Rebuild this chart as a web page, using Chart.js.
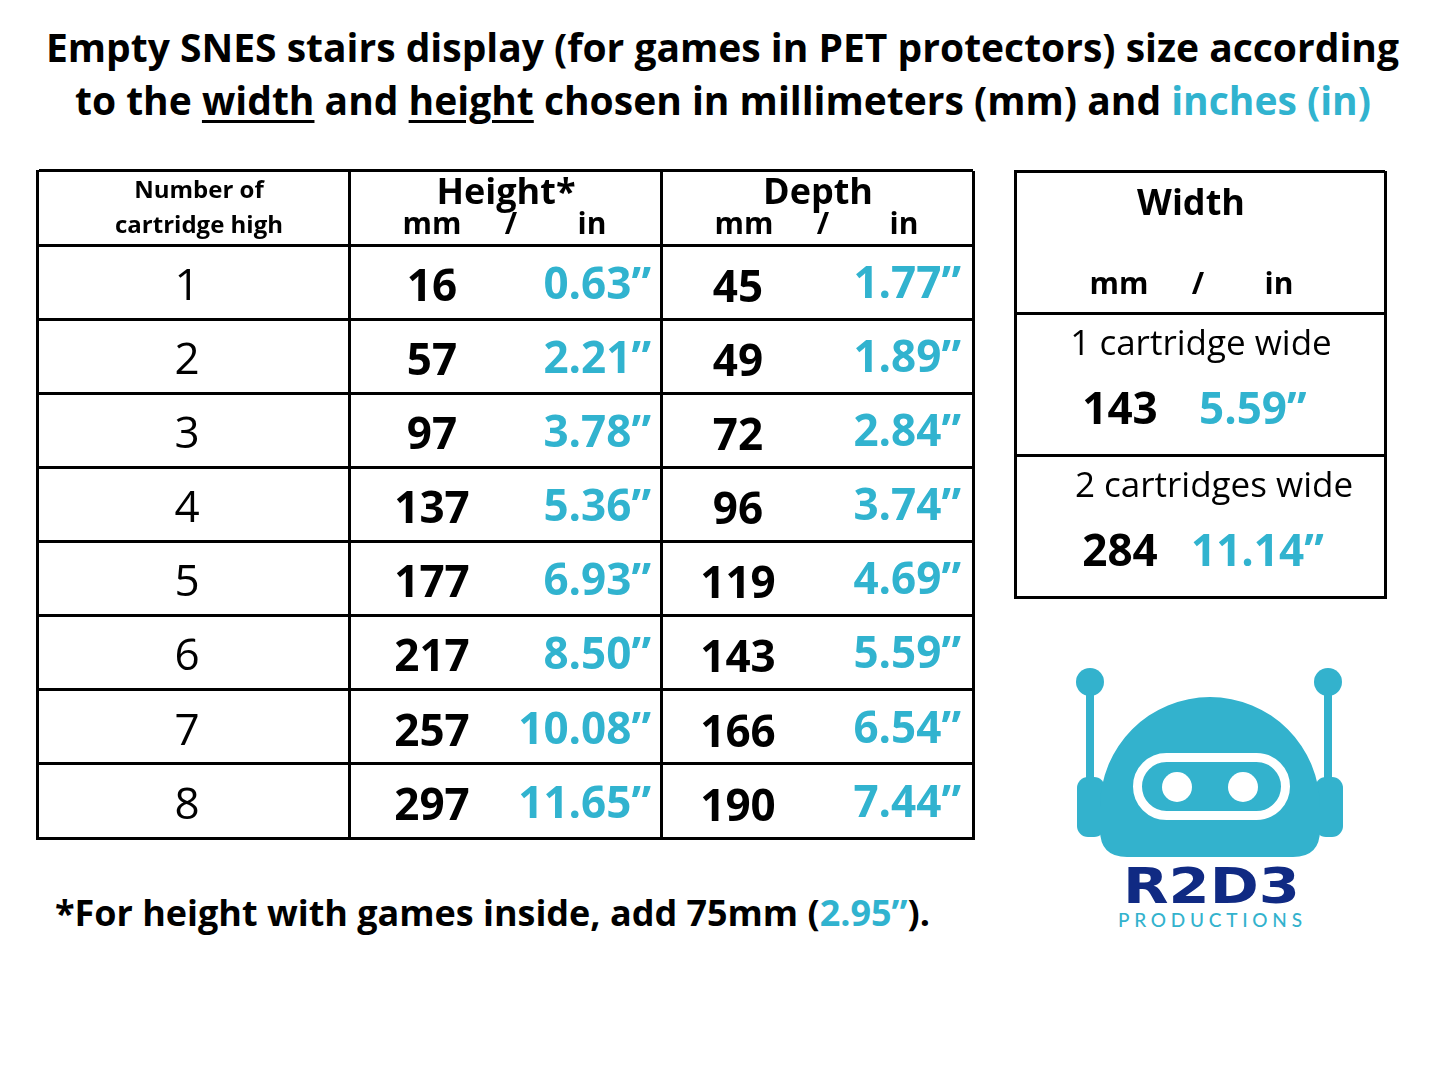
<!DOCTYPE html>
<html>
<head>
<meta charset="utf-8">
<script src="https://cdn.jsdelivr.net/npm/chart.js@4.4.0/dist/chart.umd.min.js"></script>
<style>
html,body{margin:0;padding:0;background:#fff;}
body{width:1445px;height:1084px;position:relative;overflow:hidden;font-family:'Open Sans',sans-serif;}
.row{position:absolute;left:0;width:1445px;text-align:center;white-space:nowrap;}
.fit{display:inline-block;font-weight:700;color:#000;transform-origin:center center;white-space:nowrap;}
.blue{color:#31b3cf;}
u{text-decoration-thickness:3px;text-underline-offset:5px;}
#title1,#title2{font-size:39px;line-height:50px;}
#title1{top:22px;}
#title2{top:75px;}
#foot{position:absolute;left:55px;top:888px;white-space:nowrap;}
#foot .fit{font-size:35px;line-height:50px;transform-origin:left center;}
#mainBox{position:absolute;left:30px;top:165px;width:950px;height:680px;}
#widthBox{position:absolute;left:1008px;top:165px;width:384px;height:438px;}
#logo{position:absolute;left:1060px;top:650px;width:300px;height:290px;}
</style>
</head>
<body>
<div class="row" id="title1"><span class="fit" data-w="1353">Empty SNES stairs display (for games in PET protectors) size according</span></div>
<div class="row" id="title2"><span class="fit" data-w="1296">to the <u>width</u> and <u>height</u> chosen in millimeters (mm) and <span class="blue">inches (in)</span></span></div>

<div id="mainBox"><canvas id="mainChart"></canvas></div>
<div id="widthBox"><canvas id="widthChart"></canvas></div>

<div id="foot"><span class="fit" data-w="875">*For height with games inside, add 75mm (<span class="blue">2.95”</span>).</span></div>

<svg id="logo" viewBox="0 0 300 290" xmlns="http://www.w3.org/2000/svg">
  <g fill="#33b2cd">
    <circle cx="30" cy="32" r="14"/>
    <circle cx="268" cy="32" r="14"/>
    <rect x="26" y="32" width="8" height="100"/>
    <rect x="264" y="32" width="8" height="100"/>
    <rect x="17" y="127" width="28" height="60" rx="11"/>
    <rect x="255" y="127" width="28" height="60" rx="11"/>
    <path d="M40,157 A110,110 0 0 1 260,157 L260,180 Q260,207 233,207 L67,207 Q40,207 40,180 Z"/>
  </g>
  <rect x="77.5" y="107.5" width="148" height="58" rx="29" fill="none" stroke="#fff" stroke-width="9"/>
  <circle cx="117" cy="137" r="15" fill="#fff"/>
  <circle cx="183" cy="137" r="15" fill="#fff"/>
  <text x="63" y="253" font-family="DejaVu Sans" font-weight="bold" font-size="49" fill="#102a83" textLength="177" lengthAdjust="spacingAndGlyphs">R2D3</text>
  <text x="58" y="277" font-family="Lato, 'DejaVu Sans'" font-weight="500" font-size="19" fill="#33b2cd" textLength="184" lengthAdjust="spacing">PRODUCTIONS</text>
</svg>

<script>
// ---- data ----
const columns = ['Number of cartridge high', 'Height', 'Depth'];
const cartridgesHigh = ['1', '2', '3', '4', '5', '6', '7', '8'];
const heightMm = [16, 57, 97, 137, 177, 217, 257, 297];
const heightIn = ['0.63', '2.21', '3.78', '5.36', '6.93', '8.50', '10.08', '11.65'];
const depthMm = [45, 49, 72, 96, 119, 143, 166, 190];
const depthIn = ['1.77', '1.89', '2.84', '3.74', '4.69', '5.59', '6.54', '7.44'];
const widthColumns = ['Width'];
const widthLabels = ['1 cartridge wide', '2 cartridges wide'];
const widthMm = [143, 284];
const widthIn = ['5.59', '11.14'];

const BLACK = '#000';
const BLUE = '#31b3cf';
const INCH = '”';
const FONT = '"Open Sans", sans-serif';

// fit title / footnote widths
document.querySelectorAll('.fit').forEach(el => {
  const w = el.getBoundingClientRect().width;
  el.style.transform = 'scaleX(' + (parseFloat(el.dataset.w) / w) + ')';
});

// draw text with its cap-height centred on cy
function txt(ctx, s, x, cy, weight, size, color, align) {
  ctx.font = weight + ' ' + size + 'px ' + FONT;
  ctx.fillStyle = color;
  ctx.textAlign = align || 'center';
  ctx.textBaseline = 'alphabetic';
  ctx.fillText(s, x, cy + size * 0.357);
}

const gridScale = (labels) => ({
  type: 'category',
  labels: labels,
  offset: true,
  grid: { offset: true, color: BLACK, lineWidth: 3, drawTicks: false },
  border: { display: true, color: BLACK, width: 3 },
  ticks: { display: false }
});

const baseOptions = (padding) => ({
  responsive: true,
  maintainAspectRatio: false,
  animation: false,
  events: [],
  layout: { padding: padding },
  plugins: { legend: { display: false }, tooltip: { enabled: false } }
});

// ---- main table ----
const mainRows = ['header'].concat(cartridgesHigh);
const mainOpts = baseOptions({ left: 7, top: 6, right: 7, bottom: 7 });
mainOpts.scales = { x: gridScale(columns), y: gridScale(mainRows) };

new Chart(document.getElementById('mainChart'), {
  type: 'scatter',
  data: { datasets: [] },
  options: mainOpts,
  plugins: [{
    id: 'mainText',
    afterDraw(chart) {
      const { ctx, scales: { x, y } } = chart;
      const colW = x.getPixelForValue(1) - x.getPixelForValue(0);
      ctx.save();
      const hy = y.getPixelForValue(0);
      const c0 = x.getPixelForValue(0);
      txt(ctx, 'Number of', c0 + 6, hy - 19, 700, 24, BLACK);
      txt(ctx, 'cartridge high', c0 + 6, hy + 16, 700, 24, BLACK);
      [[1, 'Height*'], [2, 'Depth']].forEach(([j, name]) => {
        const cx = x.getPixelForValue(j);
        txt(ctx, name, cx + 1, hy - 17, 700, 36, BLACK);
        txt(ctx, 'mm', cx - 73, hy + 15, 700, 30, BLACK);
        txt(ctx, '/', cx + 6, hy + 15, 700, 30, BLACK);
        txt(ctx, 'in', cx + 87, hy + 15, 700, 30, BLACK);
      });
      for (let i = 0; i < cartridgesHigh.length; i++) {
        const cy = y.getPixelForValue(i + 1) + 2;
        txt(ctx, cartridgesHigh[i], c0 - 6, cy, 400, 44, BLACK);
        const hx = x.getPixelForValue(1);
        txt(ctx, String(heightMm[i]), hx - 73, cy + 1, 700, 44, BLACK);
        txt(ctx, heightIn[i] + INCH, hx + colW / 2 - 10, cy - 1, 700, 44, BLUE, 'right');
        const dx = x.getPixelForValue(2);
        txt(ctx, String(depthMm[i]), dx - 79, cy + 2, 700, 44, BLACK);
        txt(ctx, depthIn[i] + INCH, dx + colW / 2 - 12, cy - 2, 700, 44, BLUE, 'right');
      }
      ctx.restore();
    }
  }]
});

// ---- width table ----
const widthRows = ['header'].concat(widthLabels);
const widthOpts = baseOptions({ left: 7, top: 6, right: 7, bottom: 6 });
widthOpts.scales = { x: gridScale(widthColumns), y: gridScale(widthRows) };

new Chart(document.getElementById('widthChart'), {
  type: 'scatter',
  data: { datasets: [] },
  options: widthOpts,
  plugins: [{
    id: 'widthText',
    afterDraw(chart) {
      const { ctx, scales: { x, y } } = chart;
      ctx.save();
      const cx = x.getPixelForValue(0);
      const hy = y.getPixelForValue(0);
      txt(ctx, widthColumns[0], cx - 9, hy - 40, 700, 36, BLACK);
      txt(ctx, 'mm', cx - 81, hy + 41, 700, 30, BLACK);
      txt(ctx, '/', cx - 2, hy + 41, 700, 30, BLACK);
      txt(ctx, 'in', cx + 79, hy + 41, 700, 30, BLACK);
      for (let i = 0; i < widthLabels.length; i++) {
        const ry = y.getPixelForValue(i + 1);
        txt(ctx, widthLabels[i], cx + 1 + i * 13, ry - 41, 400, 35, BLACK);
        txt(ctx, String(widthMm[i]), cx - 80, ry + 24, 700, 44, BLACK);
        txt(ctx, widthIn[i] + INCH, cx - 1 - i * 8, ry + 24, 700, 44, BLUE, 'left');
      }
      ctx.restore();
    }
  }]
});
</script>
</body>
</html>
